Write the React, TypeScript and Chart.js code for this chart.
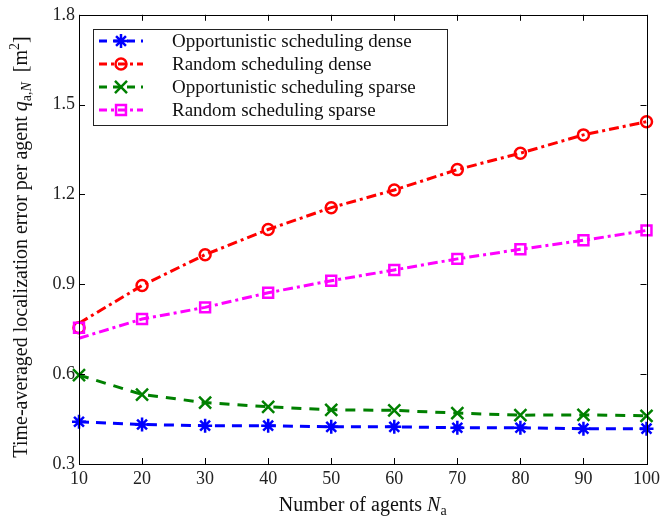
import React, { useEffect, useRef } from 'react';
import { Chart, registerables } from 'chart.js';
import { drawPoint } from 'chart.js/helpers';

Chart.register(...registerables);

// ---- data ----
const agents = [10, 20, 30, 40, 50, 60, 70, 80, 90, 100];
const oppDense = [0.441, 0.432, 0.428, 0.428, 0.424, 0.424, 0.421, 0.421, 0.418, 0.418];
const randDense = [0.755, 0.896, 0.999, 1.083, 1.156, 1.215, 1.283, 1.338, 1.399, 1.443];
const randDenseLineStart = 0.77;
const oppSparse = [0.597, 0.532, 0.505, 0.491, 0.481, 0.479, 0.47, 0.463, 0.464, 0.461];
const randSparse = [0.755, 0.784, 0.823, 0.872, 0.912, 0.948, 0.985, 1.017, 1.047, 1.08];
const randSparseLineStart = 0.72;
const xTicks = [10, 20, 30, 40, 50, 60, 70, 80, 90, 100];
const yTicks = [0.3, 0.6, 0.9, 1.2, 1.5, 1.8];
const seriesNames = [
  'Opportunistic scheduling dense',
  'Random scheduling dense',
  'Opportunistic scheduling sparse',
  'Random scheduling sparse',
];

const FONT = '"Liberation Serif", "Times New Roman", serif';

type Style = { color: string; dash: number[]; marker: string; radius: number; legendDash: number[] };
const styles: Style[] = [
  { color: '#0000ff', dash: [10, 7], marker: 'star', radius: 7, legendDash: [8, 6] },
  { color: '#ff0000', dash: [10, 4, 3, 4], marker: 'circle', radius: 5.5, legendDash: [8, 4, 3, 4] },
  { color: '#008000', dash: [10, 8], marker: 'crossRot', radius: 8.5, legendDash: [8, 6] },
  { color: '#ff00ff', dash: [10, 4, 3, 4], marker: 'rect', radius: 7, legendDash: [8, 4, 3, 4] },
];

const pts = (ys: number[]) => agents.map((x, i) => ({ x, y: ys[i] }));
const withStart = (ys: number[], s: number) => [s, ...ys.slice(1)];

type Seg = { t: string; it?: boolean; sub?: boolean; sup?: boolean };
function drawRich(ctx: CanvasRenderingContext2D, segs: Seg[], cx: number, cy: number, size: number) {
  const fontFor = (s: Seg) =>
    `${s.it ? 'italic ' : ''}${s.sub || s.sup ? Math.round(size * 0.72) : size}px ${FONT}`;
  let w = 0;
  for (const s of segs) {
    ctx.font = fontFor(s);
    w += ctx.measureText(s.t).width;
  }
  let x = cx - w / 2;
  ctx.textAlign = 'left';
  ctx.textBaseline = 'alphabetic';
  for (const s of segs) {
    ctx.font = fontFor(s);
    const dy = s.sub ? size * 0.22 : s.sup ? -size * 0.4 : 0;
    ctx.fillText(s.t, x, cy + dy);
    x += ctx.measureText(s.t).width;
  }
}

const decorPlugin = {
  id: 'decor',
  afterDatasetsDraw(chart: any) {
    const ctx: CanvasRenderingContext2D = chart.ctx;
    const { left, right, top, bottom } = chart.chartArea;
    const xs = chart.scales.x;
    const ys = chart.scales.y;
    ctx.save();
    ctx.strokeStyle = '#000';
    ctx.lineWidth = 1;
    ctx.setLineDash([]);
    ctx.strokeRect(Math.round(left) + 0.5, Math.round(top) + 0.5, Math.round(right - left), Math.round(bottom - top));
    const tl = 6;
    ctx.beginPath();
    for (const v of xTicks) {
      const px = Math.round(xs.getPixelForValue(v)) + 0.5;
      ctx.moveTo(px, bottom);
      ctx.lineTo(px, bottom - tl);
      ctx.moveTo(px, top);
      ctx.lineTo(px, top + tl);
    }
    for (const v of yTicks) {
      const py = Math.round(ys.getPixelForValue(v)) + 0.5;
      ctx.moveTo(left, py);
      ctx.lineTo(left + tl, py);
      ctx.moveTo(right, py);
      ctx.lineTo(right - tl, py);
    }
    ctx.stroke();

    // legend
    const bx = 93.5, by = 29.5, bw = 354, bh = 96;
    ctx.fillStyle = '#fff';
    ctx.fillRect(bx, by, bw, bh);
    ctx.strokeStyle = '#222';
    ctx.lineWidth = 1;
    ctx.strokeRect(bx, by, bw, bh);
    const rows = [41, 64, 87, 110];
    styles.forEach((st, i) => {
      const y = rows[i];
      ctx.strokeStyle = st.color;
      ctx.lineWidth = 3;
      ctx.setLineDash(st.legendDash);
      ctx.beginPath();
      ctx.moveTo(99, y);
      ctx.lineTo(143, y);
      ctx.stroke();
      ctx.setLineDash([]);
      ctx.fillStyle = 'rgba(0,0,0,0)';
      ctx.lineWidth = 2.5;
      drawPoint(ctx, { pointStyle: st.marker, rotation: 0, radius: st.radius, borderWidth: 2.5 } as any, 121, y);
      ctx.fillStyle = '#111';
      ctx.font = `19px ${FONT}`;
      ctx.textAlign = 'left';
      ctx.textBaseline = 'middle';
      ctx.fillText(seriesNames[i], 172, y + 1);
    });

    // axis titles
    ctx.fillStyle = '#111';
    drawRich(
      ctx,
      [{ t: 'Number of agents ' }, { t: 'N', it: true }, { t: 'a', sub: true }],
      (left + right) / 2,
      511,
      20
    );
    ctx.save();
    ctx.translate(27, 247);
    ctx.rotate(-Math.PI / 2);
    drawRich(
      ctx,
      [
        { t: 'Time-averaged localization error per agent ' },
        { t: 'q', it: true },
        { t: 'a,', sub: true },
        { t: 'N', sub: true, it: true },
        { t: '  [m' },
        { t: '2', sup: true },
        { t: ']' },
      ],
      0,
      0,
      20
    );
    ctx.restore();
    ctx.restore();
  },
};

export default function App() {
  const ref = useRef<HTMLCanvasElement>(null);
  useEffect(() => {
    if (!ref.current) return;
    const lineSets = [
      oppDense,
      withStart(randDense, randDenseLineStart),
      oppSparse,
      withStart(randSparse, randSparseLineStart),
    ];
    const markerSets = [oppDense, randDense, oppSparse, randSparse];
    const datasets: any[] = [];
    styles.forEach((st, i) => {
      datasets.push({
        label: seriesNames[i],
        data: pts(lineSets[i]),
        borderColor: st.color,
        borderWidth: 3,
        borderDash: st.dash,
        pointRadius: 0,
        fill: false,
        clip: false,
        order: 10 - i * 2,
      });
      datasets.push({
        label: seriesNames[i] + ' markers',
        data: pts(markerSets[i]),
        showLine: false,
        borderColor: st.color,
        backgroundColor: 'rgba(0,0,0,0)',
        pointStyle: st.marker,
        pointRadius: st.radius,
        pointBorderWidth: 2.5,
        pointBorderColor: st.color,
        pointBackgroundColor: 'rgba(0,0,0,0)',
        clip: false,
        order: 9 - i * 2,
      });
    });
    const chart = new Chart(ref.current, {
      type: 'line',
      data: { datasets },
      options: {
        animation: false,
        responsive: false,
        maintainAspectRatio: false,
        layout: { padding: { left: 0, right: 14, top: 14, bottom: 0 } },
        plugins: { legend: { display: false }, tooltip: { enabled: false } },
        scales: {
          x: {
            type: 'linear',
            min: 10,
            max: 100,
            grid: { display: false, drawTicks: false },
            border: { display: false },
            afterBuildTicks: (s: any) => {
              s.ticks = xTicks.map((v) => ({ value: v }));
            },
            afterFit: (s: any) => {
              s.height = 54;
            },
            ticks: {
              color: '#222',
              font: { family: FONT, size: 18 },
              padding: 4,
              maxRotation: 0,
              autoSkip: false,
              callback: (v: any) => String(v),
            },
          },
          y: {
            type: 'linear',
            min: 0.3,
            max: 1.8,
            grid: { display: false, drawTicks: false },
            border: { display: false },
            afterBuildTicks: (s: any) => {
              s.ticks = yTicks.map((v) => ({ value: v }));
            },
            afterFit: (s: any) => {
              s.width = 79;
            },
            ticks: {
              color: '#222',
              font: { family: FONT, size: 18 },
              padding: 4,
              autoSkip: false,
              callback: (v: any) => Number(v).toFixed(1),
            },
          },
        },
      },
      plugins: [decorPlugin],
    });
    return () => chart.destroy();
  }, []);
  return (
    <canvas
      ref={ref}
      width={664}
      height={518}
      style={{ position: 'absolute', left: 0, top: 0, width: 664, height: 518 }}
    />
  );
}
